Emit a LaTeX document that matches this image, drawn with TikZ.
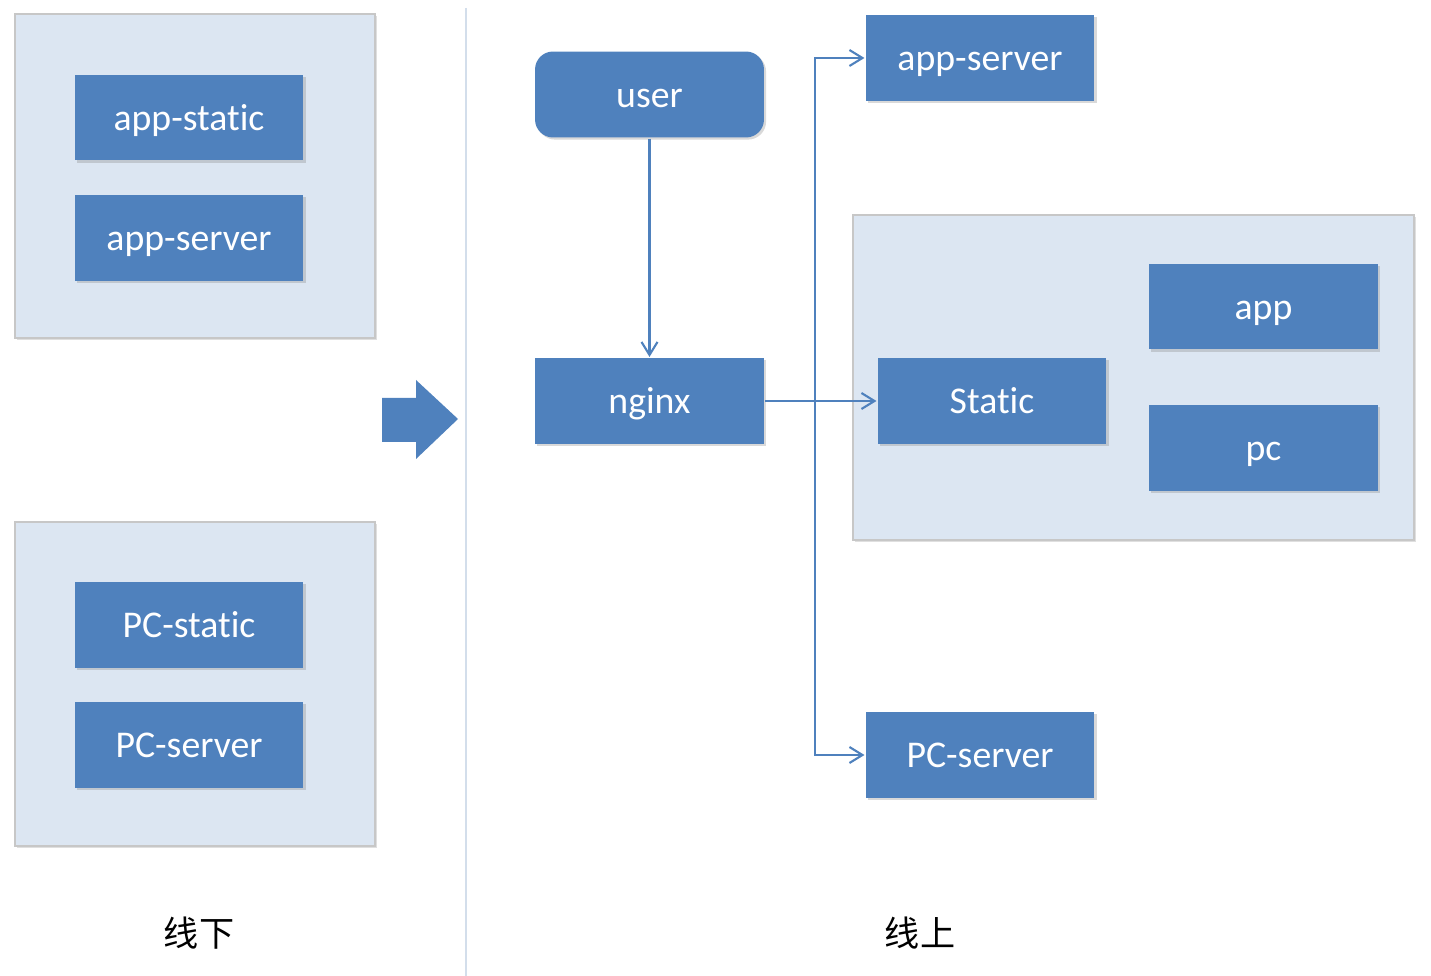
\documentclass[tikz,border=0pt]{standalone}
\usepackage{fontspec}
\setmainfont{Carlito}[Ligatures=NoCommon]
\newfontfamily\cjk{Noto Sans CJK SC}
\usepackage{tikz}
\usetikzlibrary{arrows.meta,positioning,shadows,backgrounds}

\definecolor{boxblue}{HTML}{4F81BD}
\definecolor{groupblue}{HTML}{DCE6F2}
\definecolor{divline}{HTML}{D3DEEB}

\begin{document}
\begin{tikzpicture}[x=0.02cm, y=-0.02cm, >={Straight Barb[length=2.6mm,width=3.2mm]},
                    line width=1.2pt, text centered, font=\fontsize{21.5}{25}\selectfont]
    \tikzstyle{server} = [rectangle, minimum width=4.58cm, minimum height=1.72cm,
                          draw=none, fill=boxblue, text=white,
                          text height=19.5pt, text depth=4.8pt,
                          drop shadow={shadow xshift=1.2pt, shadow yshift=-1.2pt, opacity=.3}]
    \tikzstyle{group} = [rectangle, draw=black!22, line width=1.2pt, fill=groupblue,
                         drop shadow={shadow xshift=1.2pt, shadow yshift=-1.2pt, opacity=.25}]
    \tikzstyle{link} = [->, draw=boxblue]
    \tikzstyle{caption} = [font=\cjk\fontsize{20}{24}\selectfont]

    \useasboundingbox (0,0) rectangle (1431,976);

    % offline
    \node (offapp) [group, minimum width=7.2cm, minimum height=6.48cm] at (195,176) {};
    \node (offpc)  [group, minimum width=7.2cm, minimum height=6.48cm] at (195,684) {};
    \node (appstatic)  [server] at (189,117.5) {app-static};
    \node (appserver1) [server, below=0.64cm of appstatic] {app-server};
    \node (pcstatic)   [server] at (189,625) {PC-static};
    \node (pcserver1)  [server, below=0.64cm of pcstatic] {PC-server};
    \node (offline) [caption] at (199,933) {线下};

    \fill[boxblue] (382,398) -- (416,398) -- (416,380) -- (458,419) -- (416,459)
        -- (416,442) -- (382,442) -- cycle;
    \draw[divline, line width=1pt] (466,8) -- (466,976);

    % online
    \node (static group) [group, minimum width=11.22cm, minimum height=6.5cm] at (1133.5,377.5) {};
    \node (user)  [server, rounded corners=0.36cm] at (649.5,94.5) {user};
    \node (nginx) [server] at (649.5,401) {nginx};
    \node (static) [server] at (992,401) {Static};
    \node (app) [server] at (1263.5,306.5) {app};
    \node (pc)  [server] at (1263.5,448) {pc};
    \node (appserver2) [server] at (980,58) {app-server};
    \node (pcserver2)  [server] at (980,755) {PC-server};
    \node (online) [caption] at (920,933) {线上};
    \coordinate (split) at (815,401);

    \draw [link] (user) -- (nginx);
    \draw [link] (nginx) -- (static);
    \draw [link] (split) |- (appserver2);
    \draw [link] (split) |- (pcserver2);
\end{tikzpicture}
\end{document}
